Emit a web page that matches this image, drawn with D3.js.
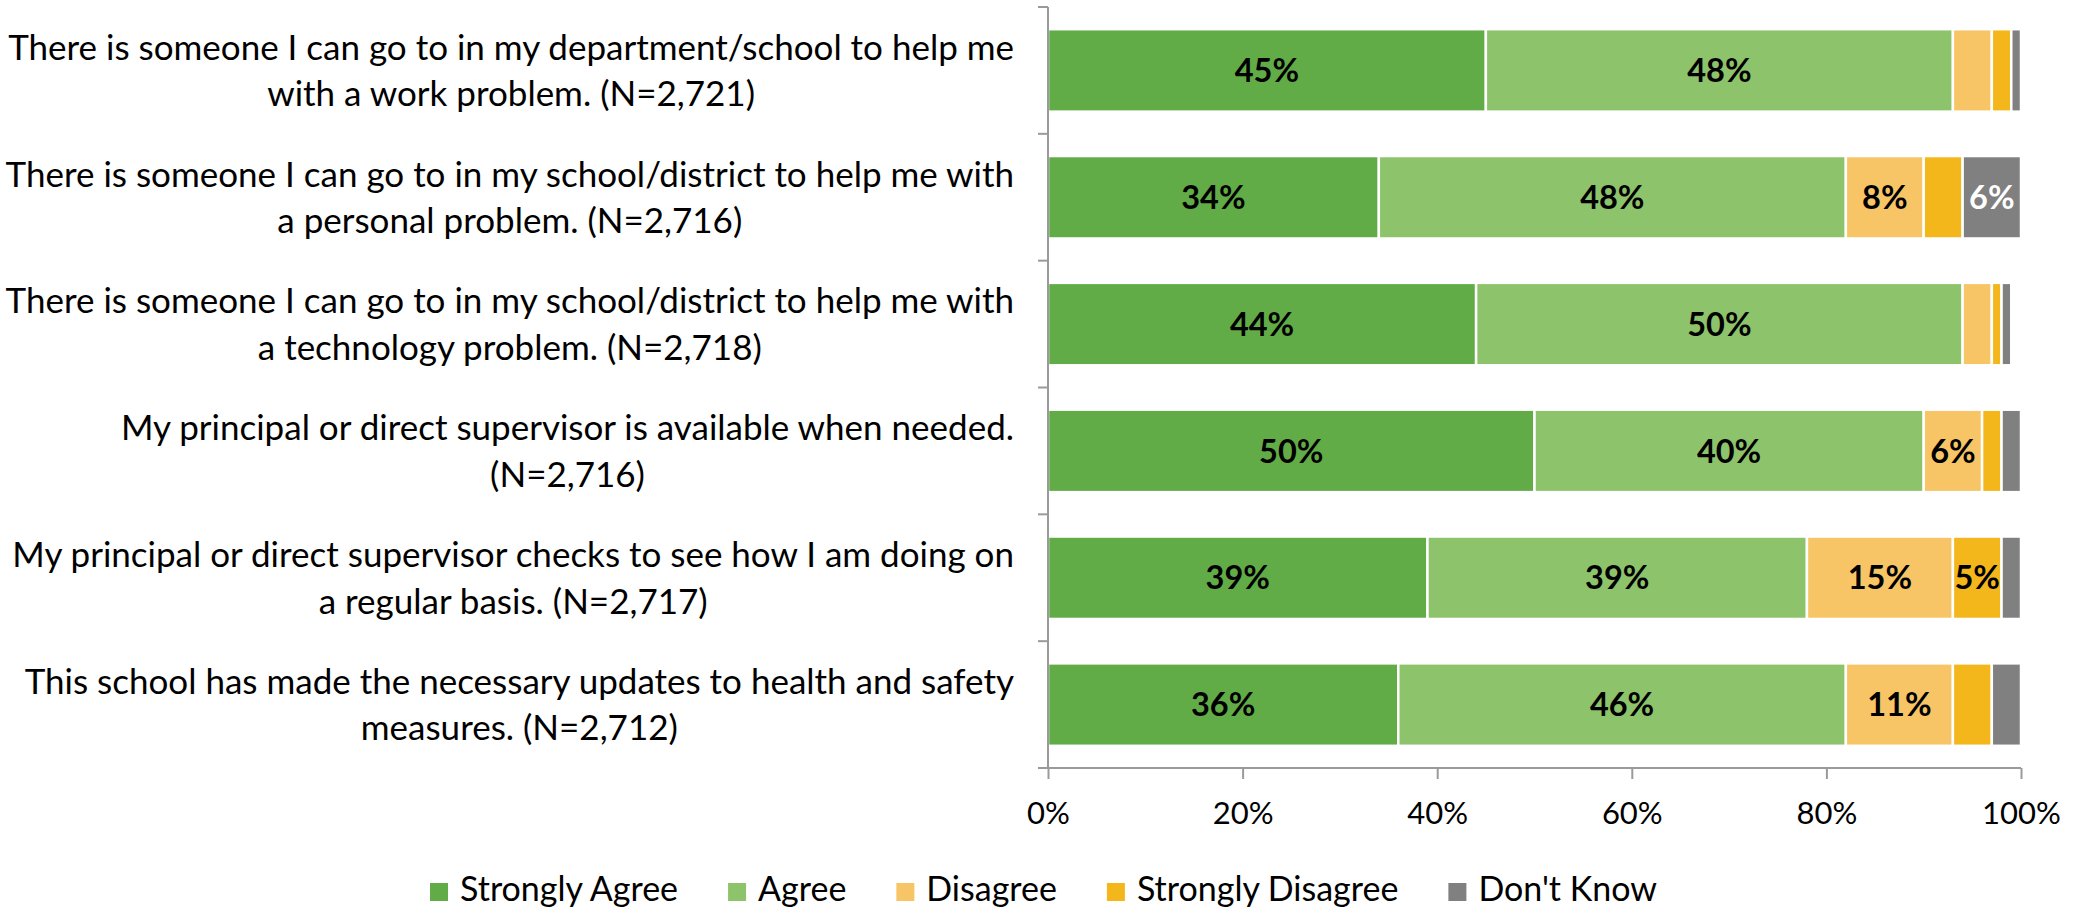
<!DOCTYPE html>
<html><head><meta charset="utf-8">
<script src="https://cdn.jsdelivr.net/npm/d3@7"></script>
<style>body{margin:0;background:#fff}svg{display:block}</style>
</head><body>
<svg id="chart" width="2081" height="910"></svg>
<script>
const categories = [
  ["There is someone I can go to in my department/school to help me", "with a work problem. (N=2,721)"],
  ["There is someone I can go to in my school/district to help me with", "a personal problem. (N=2,716)"],
  ["There is someone I can go to in my school/district to help me with", "a technology problem. (N=2,718)"],
  ["My principal or direct supervisor is available when needed.", "(N=2,716)"],
  ["My principal or direct supervisor checks to see how I am doing on", "a regular basis. (N=2,717)"],
  ["This school has made the necessary updates to health and safety", "measures. (N=2,712)"]
];
const seriesNames = ["Strongly Agree", "Agree", "Disagree", "Strongly Disagree", "Don't Know"];
const stronglyAgree    = [45, 34, 44, 50, 39, 36];
const agree            = [48, 48, 50, 40, 39, 46];
const disagree         = [4, 8, 3, 6, 15, 11];
const stronglyDisagree = [2, 4, 1, 2, 5, 4];
const dontKnow         = [1, 6, 1, 2, 2, 3];
const xTicks = [0, 20, 40, 60, 80, 100];
const colors = ["#62ac47", "#8dc36a", "#f7c566", "#f3b71c", "#808080"];
const labelColors = ["#000", "#000", "#000", "#000", "#fff"];

(function () {
const seriesValues = [stronglyAgree, agree, disagree, stronglyDisagree, dontKnow];
const rows = categories.map((c, i) => {
  const r = {idx: i};
  seriesNames.forEach((s, k) => r[s] = seriesValues[k][i]);
  return r;
});

const svg = d3.select("#chart");
const FONT = "Lato, 'Open Sans', sans-serif";
const pLeft = 1048, pRight = 2021, pTop = 7, pBottom = 768;

const x = d3.scaleLinear().domain([0, 100]).range([pLeft, pRight]);
const y = d3.scaleBand().domain(d3.range(categories.length)).range([pTop, pBottom]).paddingInner(0.35).paddingOuter(0.175);
const yOuter = d3.scaleBand().domain(d3.range(categories.length)).range([pTop, pBottom]);

const stack = d3.stack().keys(seriesNames)(rows);

const g = svg.append("g");
stack.forEach((layer, k) => {
  g.selectAll(null).data(layer).join("rect")
    .attr("x", d => x(d[0]))
    .attr("y", d => y(d.data.idx))
    .attr("width", d => Math.max(0, x(d[1]) - x(d[0])))
    .attr("height", y.bandwidth())
    .attr("fill", colors[k])
    .attr("stroke", "#fff").attr("stroke-width", 2.5);
  g.selectAll(null).data(layer.filter(d => d[1] - d[0] >= 5)).join("text")
    .attr("x", d => (x(d[0]) + x(d[1])) / 2)
    .attr("y", d => y(d.data.idx) + y.bandwidth() / 2)
    .attr("dy", "0.36em")
    .attr("text-anchor", "middle")
    .attr("font-family", FONT).attr("font-weight", "bold").attr("font-size", 32.5)
    .attr("fill", labelColors[k])
    .text(d => (d[1] - d[0]) + "%");
});

// axes
const axisColor = "#9a9a9a";
const xAxis = svg.append("g").attr("transform", `translate(0,${pBottom})`)
  .call(d3.axisBottom(x).tickValues(xTicks).tickSize(11).tickFormat(d => d + "%"));
xAxis.select(".domain").attr("stroke", axisColor).attr("stroke-width", 2).attr("d", `M${pLeft - 10},0H${pRight}`);
xAxis.selectAll(".tick line").attr("stroke", axisColor).attr("stroke-width", 2);
xAxis.selectAll(".tick text").attr("font-family", FONT).attr("font-size", 31).attr("fill", "#000")
  .attr("y", 56).attr("dy", null);

const yAxisG = svg.append("g");
yAxisG.append("line").attr("x1", pLeft).attr("x2", pLeft).attr("y1", pTop).attr("y2", pBottom)
  .attr("stroke", axisColor).attr("stroke-width", 2);
const boundaries = d3.range(categories.length + 1).map(i => i < categories.length ? yOuter(i) : pBottom);
yAxisG.selectAll(null).data(boundaries).join("line")
  .attr("x1", pLeft - 10).attr("x2", pLeft).attr("y1", d => d).attr("y2", d => d)
  .attr("stroke", axisColor).attr("stroke-width", 2);

// category labels
const labelRight = 1014, lineH = 46.5;
categories.forEach((lines, i) => {
  const cy = y(i) + y.bandwidth() / 2;
  const t = svg.append("g");
  const texts = lines.map((ln, j) => t.append("text")
    .attr("y", cy + (j - (lines.length - 1) / 2) * lineH)
    .attr("dy", "0.36em")
    .attr("font-family", FONT).attr("font-size", 35).attr("fill", "#000")
    .attr("text-anchor", "middle").text(ln));
  const w = d3.max(texts, tx => tx.node().getComputedTextLength());
  texts.forEach(tx => tx.attr("x", labelRight - w / 2));
});

// legend: items laid out sequentially, whole block centred
const legend = svg.append("g");
const sq = 18, textGap = 12, itemGap = 50, legendCenter = 1043.5;
const items = seriesNames.map((s, k) => {
  const it = legend.append("g");
  it.append("rect").attr("x", 0).attr("y", 883).attr("width", sq).attr("height", sq).attr("fill", colors[k]);
  const tx = it.append("text").attr("x", sq + textGap).attr("y", 901)
    .attr("font-family", FONT).attr("font-size", 34).attr("fill", "#000").text(s);
  return {it, w: sq + textGap + tx.node().getComputedTextLength()};
});
const total = d3.sum(items, d => d.w) + itemGap * (items.length - 1);
let cx = legendCenter - total / 2;
items.forEach(d => { d.it.attr("transform", `translate(${cx},0)`); cx += d.w + itemGap; });
})();
</script>
</body></html>
